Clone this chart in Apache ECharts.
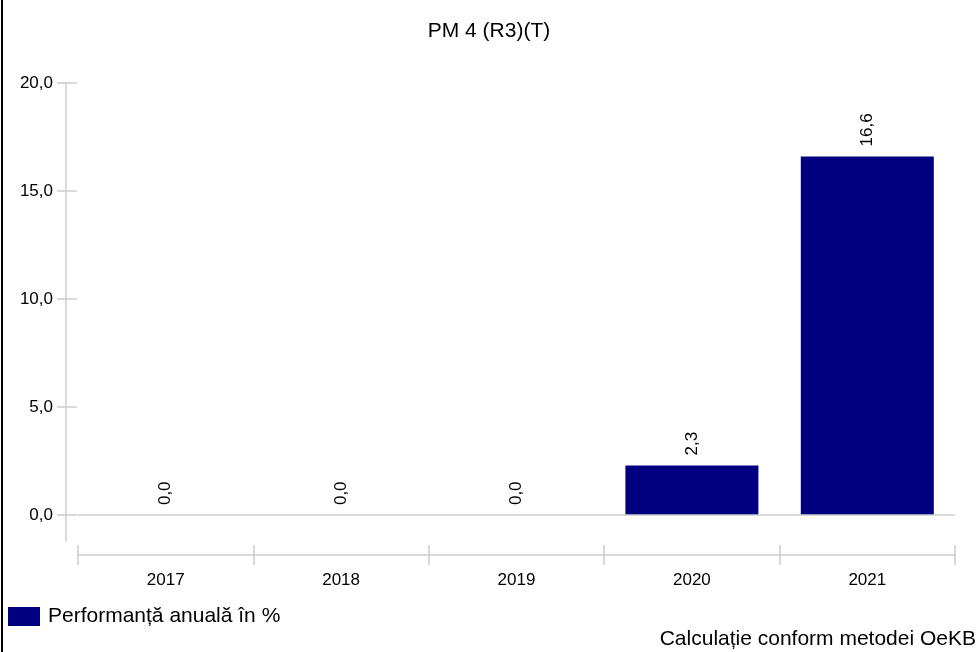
<!DOCTYPE html>
<html>
<head>
<meta charset="utf-8">
<script src="https://cdn.jsdelivr.net/npm/echarts@6/dist/echarts.min.js"></script>
<style>
html,body{margin:0;padding:0;background:#fff;}
#c{width:978px;height:652px;}
</style>
</head>
<body>
<div id="c"></div>
<script>
const categories = ['2017', '2018', '2019', '2020', '2021'];
const values = [0.0, 0.0, 0.0, 2.3, 16.6];
const yTicks = [0, 5, 10, 15, 20];
const seriesName = 'Performanță anuală în %';
const titleText = 'PM 4 (R3)(T)';
const footnote = 'Calculație conform metodei OeKB';

const FONT = '"Liberation Sans", Arial, sans-serif';
const fmt = v => v.toFixed(1).replace('.', ',');
const chart = echarts.init(document.getElementById('c'));
chart.setOption({
  animation: false,
  textStyle: { fontFamily: FONT },
  title: {
    text: titleText, left: 'center', top: 16,
    textStyle: { fontSize: 21, fontWeight: 'normal', color: '#000', fontFamily: FONT }
  },
  legend: {
    left: 8, top: 606, padding: 0,
    itemWidth: 32, itemHeight: 19,
    icon: 'rect',
    textStyle: { fontSize: 21, color: '#000', fontFamily: FONT, padding: [0, 0, 0, 3] },
    data: [seriesName]
  },
  grid: { left: 78, right: 23, top: 83, bottom: 111 },
  xAxis: [{
    type: 'category', data: categories, position: 'bottom', offset: 14,
    axisLine: { onZero: false, lineStyle: { color: '#cccccc', width: 1.5 } },
    axisTick: { show: true, length: 10, lineStyle: { color: '#cccccc', width: 1.5 } },
    axisLabel: { fontSize: 17, color: '#000', margin: 17, fontFamily: FONT },
    splitLine: { show: false }
  }, {
    type: 'category', data: categories, position: 'bottom', offset: 14,
    axisLine: { show: false, onZero: false },
    axisTick: { show: true, inside: true, length: 10, lineStyle: { color: '#cccccc', width: 1.5 } },
    axisLabel: { show: false }
  }],
  yAxis: [{
    type: 'value', min: -1.2, max: 20, position: 'left', offset: 12,
    axisLine: { show: true, onZero: false, lineStyle: { color: '#cccccc', width: 1.5 } },
    axisTick: { show: true, length: 9, customValues: yTicks, lineStyle: { color: '#cccccc', width: 1.5 } },
    axisLabel: { customValues: yTicks, fontSize: 17, color: '#000', margin: 13, formatter: v => fmt(v), fontFamily: FONT },
    splitLine: { show: false }
  }, {
    type: 'value', min: -1.2, max: 20, position: 'left', offset: 12,
    axisLine: { show: false, onZero: false },
    axisTick: { show: true, inside: true, length: 11, customValues: yTicks, lineStyle: { color: '#cccccc', width: 1.5 } },
    axisLabel: { show: false },
    splitLine: { show: false }
  }],
  series: [{
    name: seriesName, type: 'bar', data: values,
    barWidth: 133,
    itemStyle: { color: '#000080' },
    label: {
      show: true, position: 'top', rotate: 90, align: 'left', verticalAlign: 'middle',
      distance: 10, fontSize: 17, color: '#000', fontFamily: FONT,
      formatter: p => fmt(p.value)
    },
    markLine: {
      silent: true, symbol: 'none', label: { show: false },
      lineStyle: { color: '#cccccc', width: 1.5, type: 'solid' },
      data: [{ yAxis: 0 }]
    }
  }],
  graphic: [
    { type: 'rect', left: 1, top: 0, shape: { width: 2, height: 652 }, style: { fill: '#000' } },
    { type: 'text', right: 2, top: 629, style: { text: footnote, fontSize: 21, fill: '#000', fontFamily: FONT } }
  ]
});
</script>
</body>
</html>
